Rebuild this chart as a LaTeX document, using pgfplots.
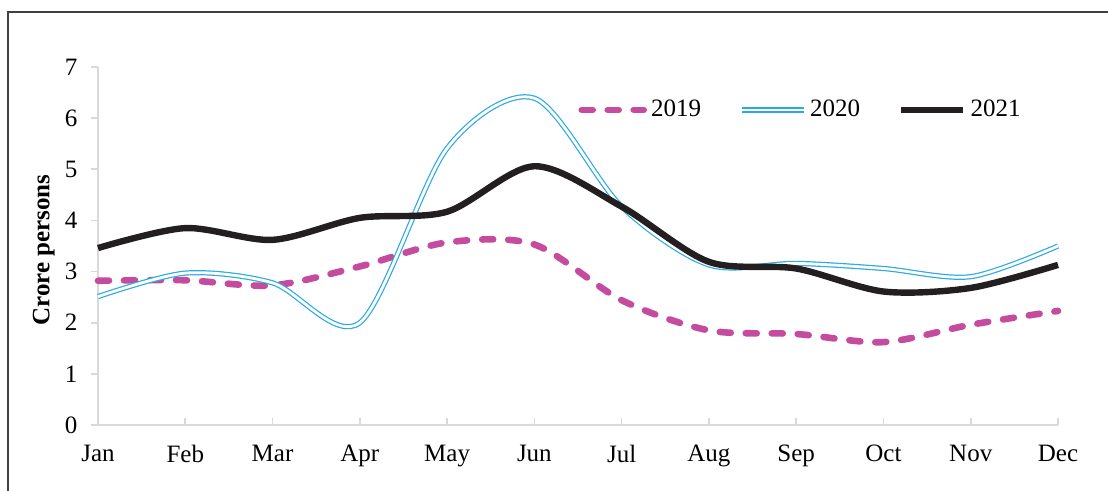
\documentclass[border=0pt]{standalone}
\usepackage{pgfplots}
\pgfplotsset{compat=1.18}
\usepackage{fontspec}
\setmainfont{Liberation Serif}
\definecolor{c2019}{RGB}{197,75,158}
\definecolor{c2020}{RGB}{41,171,226}
\definecolor{c2021}{RGB}{35,31,32}
\definecolor{axgray}{RGB}{217,217,217}
\definecolor{framegray}{RGB}{64,64,64}
\begin{document}
\fontsize{12.5pt}{15pt}\selectfont
\begin{tikzpicture}
\useasboundingbox (0,0) rectangle (554pt,245.5pt);
\draw[line width=0.8pt, framegray] (4pt,-20pt) -- (4pt,239.5pt) -- (600pt,239.5pt);
\begin{axis}[
  at={(49pt,33pt)}, anchor=south west,
  scale only axis, width=480pt, height=179pt,
  xmin=0, xmax=11, ymin=0, ymax=7,
  axis x line*=bottom, axis y line*=left,
  axis line style={-, axgray, line width=0.8pt},
  xtick={0,...,11},
  xticklabels={Jan,Feb,Mar,Apr,May,Jun,Jul,Aug,Sep,Oct,Nov,Dec},
  ytick={0,...,7},
  tick align=inside,
  major tick length=3.5pt,
  tick style={axgray, line width=0.8pt},
  y tick style={xshift=-3.5pt},
  /pgf/number format/assume math mode=true,
  yticklabel style={font=\fontsize{12.5pt}{15pt}\selectfont, xshift=-6pt},
  xticklabel style={font=\fontsize{12.5pt}{15pt}\selectfont, yshift=-5.8pt},
  clip=false,
  legend columns=3,
  legend style={at={(axis description cs:0.500,0.88)}, anchor=west, draw=none, fill=none,
    inner sep=0pt, font=\fontsize{12.5pt}{15pt}\selectfont,
    nodes={inner sep=2pt},
    /tikz/every even column/.append style={column sep=17pt}},
  legend image code/.code={\draw[#1] (0pt,0pt) -- (31pt,0pt);},
]
\addplot[c2019, line width=3.3pt, line cap=round, dash pattern=on 5.5pt off 7.5pt, smooth] coordinates {
(0,2.82) (1,2.83) (2,2.73) (3,3.10) (4,3.57) (5,3.53) (6,2.44) (7,1.85) (8,1.78) (9,1.62) (10,1.96) (11,2.23)};
\addlegendentry{2019}
\addplot[c2020, line width=0.6pt, double=white, double distance=1.4pt, smooth] coordinates {
(0,2.51) (1,2.97) (2,2.78) (3,2.00) (4,5.41) (5,6.39) (6,4.27) (7,3.13) (8,3.16) (9,3.06) (10,2.90) (11,3.50)};
\addlegendentry{2020}
\addplot[c2021, line width=3.2pt, smooth] coordinates {
(0,3.46) (1,3.85) (2,3.62) (3,4.05) (4,4.17) (5,5.06) (6,4.27) (7,3.19) (8,3.06) (9,2.61) (10,2.68) (11,3.13)};
\addlegendentry{2021}
\node[rotate=90, anchor=south, inner sep=0pt, font=\bfseries\fontsize{12.5pt}{15pt}\selectfont]
  at (axis description cs:-0.0448,0.489) {Crore persons};
\end{axis}
\end{tikzpicture}
\end{document}
